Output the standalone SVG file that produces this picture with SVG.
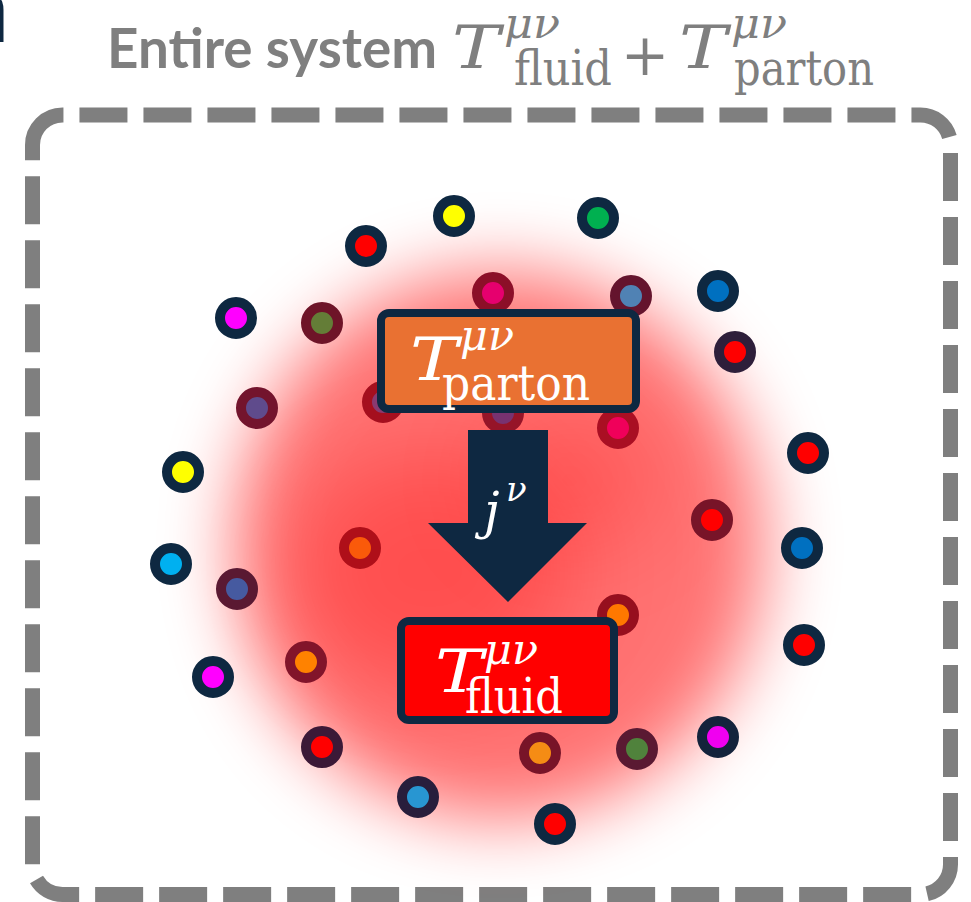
<svg xmlns="http://www.w3.org/2000/svg" width="971" height="902" viewBox="0 0 971 902">
<style>
.title{font-family:Lato,"Open Sans","Liberation Sans",sans-serif;font-weight:700;fill:#7f7f7f}
.m{font-family:"DejaVu Serif","Liberation Serif",serif}
.i{font-style:italic}
.g{fill:#7f7f7f}
.wt{fill:#ffffff}
.box{stroke:#0E2841;stroke-width:8}
.dot{stroke-width:10}
.n{stroke:#0E2841}
.border{fill:none;stroke:#7f7f7f;stroke-width:15;stroke-dasharray:48 16}
</style>
<defs>
<filter id="blur" x="-50%" y="-50%" width="200%" height="200%"><feGaussianBlur stdDeviation="36"/></filter>
<filter id="blur2" x="-50%" y="-50%" width="200%" height="200%"><feGaussianBlur stdDeviation="45"/></filter>
</defs>
<rect width="971" height="902" fill="#ffffff"/>
<text x="9" y="42" text-anchor="end" font-family="Lato,'Liberation Sans',sans-serif" font-weight="700" font-size="100" fill="#0E2841">a</text>
<path class="border" d="M32.5,145 A30,30 0 0 1 62.5,115 H920.5 A30,30 0 0 1 950.5,145 V864.5 A30,30 0 0 1 920.5,894.5 H62.5 A30,30 0 0 1 32.5,864.5 Z"/>
<g id="title">
<text class="title" x="107" y="68" font-size="56" textLength="330" lengthAdjust="spacingAndGlyphs">Entire system</text>
<text class="m i g" x="452" y="68" font-size="60" textLength="48" lengthAdjust="spacingAndGlyphs">T</text>
<text class="m i g" x="504" y="38" font-size="42" textLength="56" lengthAdjust="spacingAndGlyphs">μν</text>
<text class="m g" x="514" y="85" font-size="48" textLength="98" lengthAdjust="spacingAndGlyphs">fluid</text>
<text class="m g" x="645" y="75" font-size="58" text-anchor="middle">+</text>
<text class="m i g" x="679" y="68" font-size="60" textLength="48" lengthAdjust="spacingAndGlyphs">T</text>
<text class="m i g" x="731" y="38" font-size="42" textLength="56" lengthAdjust="spacingAndGlyphs">μν</text>
<text class="m g" x="734" y="85" font-size="48" textLength="140" lengthAdjust="spacingAndGlyphs">parton</text>
</g>
<g id="glow">
<ellipse cx="500" cy="545" rx="265" ry="275" fill="#ff0000" opacity="0.55" filter="url(#blur)"/>
<ellipse cx="430" cy="570" rx="140" ry="120" fill="#ff0000" opacity="0.3" filter="url(#blur2)"/>
<ellipse cx="570" cy="480" rx="90" ry="70" fill="#ff0000" opacity="0.22" filter="url(#blur2)"/>
</g>
<g id="dots">
<circle class="dot n" cx="454" cy="216" r="16" fill="#ffff00"/>
<circle class="dot n" cx="366" cy="246" r="16" fill="#ff0000"/>
<circle class="dot n" cx="236" cy="318" r="16" fill="#ff00ff"/>
<circle class="dot" cx="322" cy="323" r="16" fill="#647d37" stroke="#6e1428"/>
<circle class="dot" cx="493" cy="293" r="16" fill="#e6006e" stroke="#8c0f28"/>
<circle class="dot" cx="257" cy="408" r="16" fill="#5f4b8c" stroke="#73142d"/>
<circle class="dot n" cx="183" cy="472" r="16" fill="#ffff00"/>
<circle class="dot" cx="383" cy="402" r="16" fill="#8a3a70" stroke="#a50f1e"/>
<circle class="dot n" cx="598" cy="218" r="16" fill="#00b050"/>
<circle class="dot" cx="631" cy="296" r="16" fill="#5082b4" stroke="#64142d"/>
<circle class="dot n" cx="718" cy="291" r="16" fill="#0070c0"/>
<circle class="dot" cx="735" cy="352" r="16" fill="#ff0000" stroke="#2e1e3a"/>
<circle class="dot" cx="618" cy="428" r="16" fill="#f0005a" stroke="#aa0f23"/>
<circle class="dot" cx="503" cy="413" r="16" fill="#783270" stroke="#961428"/>
<circle class="dot n" cx="808" cy="453" r="16" fill="#ff0000"/>
<circle class="dot n" cx="171" cy="564" r="16" fill="#00b0f0"/>
<circle class="dot" cx="360" cy="548" r="16" fill="#fa5a0a" stroke="#af0f19"/>
<circle class="dot" cx="237" cy="589" r="16" fill="#465aa0" stroke="#5a1932"/>
<circle class="dot" cx="306" cy="662" r="16" fill="#ff8200" stroke="#82142a"/>
<circle class="dot n" cx="213" cy="677" r="16" fill="#ff00ff"/>
<circle class="dot" cx="322" cy="747" r="16" fill="#ff0000" stroke="#3c1937"/>
<circle class="dot" cx="418" cy="797" r="16" fill="#2896d2" stroke="#281e3c"/>
<circle class="dot" cx="712" cy="520" r="16" fill="#ff0000" stroke="#781428"/>
<circle class="dot n" cx="802" cy="548" r="16" fill="#0070c0"/>
<circle class="dot n" cx="804" cy="645" r="16" fill="#ff0000"/>
<circle class="dot" cx="618" cy="615" r="16" fill="#ff7800" stroke="#960f1e"/>
<circle class="dot" cx="540" cy="753" r="16" fill="#f58c14" stroke="#781428"/>
<circle class="dot" cx="637" cy="749" r="16" fill="#50823c" stroke="#5a1932"/>
<circle class="dot" cx="718" cy="737" r="16" fill="#f000f0" stroke="#14233c"/>
<circle class="dot n" cx="555" cy="824" r="16" fill="#ff0000"/>
</g>
<g id="connectors">
<path d="M468,430 H548 V523 H587 L508,602 L428,523 H468 Z" fill="#0E2841"/>
<text class="m i wt" x="484" y="528" font-size="50">j</text>
<text class="m i wt" x="506" y="501" font-size="34">ν</text>
</g>
<g id="node-parton">
<rect class="box" x="381" y="313" width="255" height="96" rx="8" fill="#e97132"/>
<text class="m i wt" x="410" y="380" font-size="60" textLength="48" lengthAdjust="spacingAndGlyphs">T</text>
<text class="m i wt" x="460" y="350" font-size="42" textLength="54" lengthAdjust="spacingAndGlyphs">μν</text>
<text class="m wt" x="442" y="400" font-size="48" textLength="148" lengthAdjust="spacingAndGlyphs">parton</text>
</g>
<g id="node-fluid">
<rect class="box" x="401" y="621" width="213" height="99" rx="8" fill="#ff0000"/>
<text class="m i wt" x="435" y="692" font-size="60" textLength="48" lengthAdjust="spacingAndGlyphs">T</text>
<text class="m i wt" x="484" y="664" font-size="42" textLength="54" lengthAdjust="spacingAndGlyphs">μν</text>
<text class="m wt" x="465" y="713" font-size="48" textLength="98" lengthAdjust="spacingAndGlyphs">fluid</text>
</g>
</svg>
